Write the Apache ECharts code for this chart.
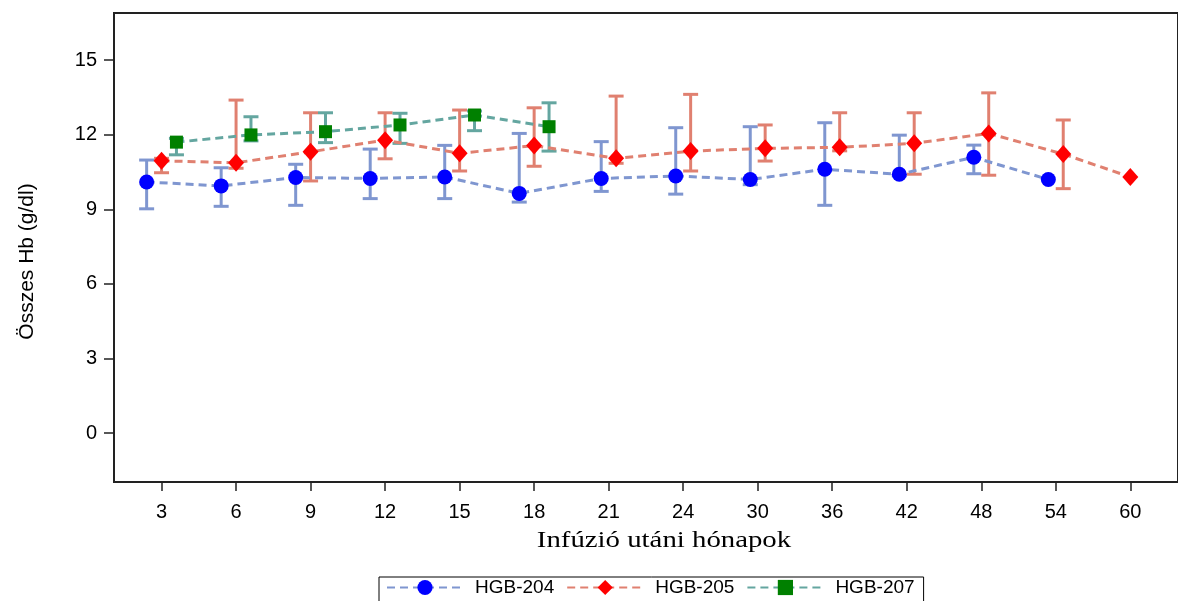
<!DOCTYPE html>
<html>
<head>
<meta charset="utf-8">
<script src="https://cdn.jsdelivr.net/npm/echarts@6/dist/echarts.min.js"></script>
<style>html,body{margin:0;padding:0;background:#fff}#c{width:1178px;height:601px}</style>
</head>
<body>
<div id="c"></div>
<script>
// ---- data ----
var categories = ['3','6','9','12','15','18','21','24','30','36','42','48','54','60'];
var yTicks = [0, 3, 6, 9, 12, 15];
var seriesNames = ['HGB-204', 'HGB-205', 'HGB-207'];
var xTitle = 'Infúzió utáni hónapok';
var yTitle = 'Összes Hb (g/dl)';

var hgb204Mean = [10.10, 9.94, 10.28, 10.24, 10.30, 9.64, 10.24, 10.34, 10.20, 10.61, 10.41, 11.09, 10.20, null];
var hgb204Low  = [9.02, 9.12, 9.16, 9.43, 9.43, 9.29, 9.72, 9.61, 9.99, 9.16, 10.35, 10.43, null, null];
var hgb204High = [10.98, 10.67, 10.81, 11.42, 11.57, 12.05, 11.72, 12.28, 12.32, 12.48, 11.98, 11.58, null, null];

var hgb205Mean = [10.95, 10.87, 11.31, 11.78, 11.25, 11.56, 11.05, 11.34, 11.45, 11.49, 11.65, 12.05, 11.22, 10.30];
var hgb205Low  = [10.47, 10.65, 10.14, 11.03, 10.54, 10.73, 10.85, 10.54, 10.94, 11.35, 10.41, 10.37, 9.83, null];
var hgb205High = [11.05, 13.39, 12.88, 12.88, 12.99, 13.08, 13.55, 13.62, 12.39, 12.88, 12.88, 13.68, 12.59, null];

var hgb207Mean = [11.70, 11.99, 12.12, 12.39, 12.79, 12.32, null, null, null, null, null, null, null, null];
var hgb207Low  = [11.19, 11.75, 11.68, 11.65, 12.16, 11.34, null, null, null, null, null, null, null, null];
var hgb207High = [11.85, 12.72, 12.88, 12.86, 12.95, 13.28, null, null, null, null, null, null, null, null];

// ---- styles ----
var markerColors = ['#0000ff', '#ff0000', '#008000'];
var lineColors = ['#7f96d0', '#e08070', '#64a6a0'];
var symbols = ['circle', 'diamond', 'rect'];
var symbolSizes = [15, [16, 18], 13];

var means = [hgb204Mean, hgb205Mean, hgb207Mean];
var lows = [hgb204Low, hgb205Low, hgb207Low];
var highs = [hgb204High, hgb205High, hgb207High];

// cluster offsets per category depending on which groups are present
function offsetFor(ci, si) {
  var present = [];
  for (var s = 0; s < means.length; s++) if (means[s][ci] != null) present.push(s);
  var n = present.length, k = present.indexOf(si);
  if (n === 3) return (k - 1) * 0.2;
  if (n === 2) return (k === 0 ? -0.1 : 0.1);
  return 0;
}

var series = [];
for (var s = 0; s < 3; s++) {
  var lineData = [], errData = [];
  for (var i = 0; i < categories.length; i++) {
    if (means[s][i] == null) continue;
    var x = i + offsetFor(i, s);
    lineData.push([x, means[s][i]]);
    if (lows[s][i] != null && highs[s][i] != null) errData.push([x, lows[s][i], highs[s][i]]);
  }
  (function (col) {
    series.push({
      type: 'custom',
      name: seriesNames[s] + ' err',
      z: 1,
      silent: true,
      encode: { x: 0, y: [1, 2] },
      data: errData,
      renderItem: function (params, api) {
        var x = api.value(0);
        var p1 = api.coord([x, api.value(2)]);
        var p2 = api.coord([x, api.value(1)]);
        var w = 7.5;
        var st = { stroke: col, lineWidth: 3 };
        return { type: 'group', children: [
          { type: 'line', shape: { x1: p1[0], y1: p1[1], x2: p2[0], y2: p2[1] }, style: st },
          { type: 'line', shape: { x1: p1[0] - w, y1: p1[1], x2: p1[0] + w, y2: p1[1] }, style: st },
          { type: 'line', shape: { x1: p2[0] - w, y1: p2[1], x2: p2[0] + w, y2: p2[1] }, style: st }
        ]};
      }
    });
  })(lineColors[s]);
  series.push({
    type: 'line',
    name: seriesNames[s],
    z: 3 + s,
    data: lineData,
    symbol: symbols[s],
    symbolSize: symbolSizes[s],
    showAllSymbol: true,
    itemStyle: { color: markerColors[s], opacity: 1 },
    lineStyle: { color: lineColors[s], width: 3, type: [8, 5] },
    emphasis: { disabled: true },
    animation: false
  });
}

var tickIdx = categories.map(function (c, i) { return i; });

var chart = echarts.init(document.getElementById('c'), null, { renderer: 'canvas' });
chart.setOption({
  animation: false,
  backgroundColor: '#fff',
  grid: { left: 114, right: -10, top: 13, bottom: 119, show: true, borderColor: '#222', borderWidth: 2 },
  graphic: [{
    type: 'text',
    x: 664, y: 541,
    scaleX: 1.2,
    style: { text: xTitle, fill: '#000', font: '24px "Liberation Serif", "Times New Roman", serif', align: 'center', verticalAlign: 'middle' },
    silent: true
  }],
  xAxis: {
    type: 'value',
    min: -0.638, max: 13.64,
    axisLine: { show: true, onZero: false, lineStyle: { color: '#222', width: 2 } },
    splitLine: { show: false },
    axisTick: { show: true, length: 9, lineStyle: { color: '#222', width: 1.5 }, customValues: tickIdx },
    axisLabel: {
      margin: 20, color: '#000', fontFamily: 'Liberation Sans', fontSize: 20,
      customValues: tickIdx,
      formatter: function (v) { return categories[Math.round(v)]; }
    }
  },
  yAxis: {
    type: 'value',
    min: -1.96, max: 16.89,
    name: yTitle,
    nameLocation: 'middle',
    nameGap: 76,
    nameTextStyle: { fontFamily: 'Liberation Sans', fontSize: 21, color: '#000', padding: [0, 28, 0, 0] },
    axisLine: { show: true, onZero: false, lineStyle: { color: '#222', width: 2 } },
    splitLine: { show: false },
    axisTick: { show: true, length: 10, lineStyle: { color: '#222', width: 1.5 }, customValues: yTicks },
    axisLabel: { margin: 17, color: '#000', fontFamily: 'Liberation Sans', fontSize: 20, customValues: yTicks }
  },
  legend: {
    data: seriesNames,
    left: 379, top: 577,
    orient: 'horizontal',
    padding: [1, 9, 10, 7],
    itemWidth: 76, itemHeight: 19, itemGap: 12,
    borderColor: '#000', borderWidth: 1,
    textStyle: { fontFamily: 'Liberation Sans', fontSize: 19, color: '#000', padding: [0, 0, 0, 7] },
    selectedMode: false
  },
  series: series
});
</script>
</body>
</html>
